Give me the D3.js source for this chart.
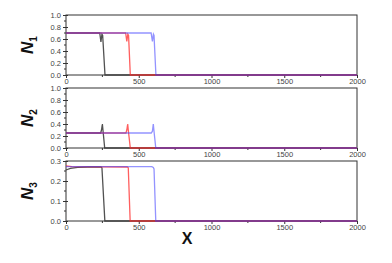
<!DOCTYPE html>
<html>
<head>
<meta charset="utf-8">
<script src="https://cdn.jsdelivr.net/npm/d3@7"></script>
<style>
  body { margin: 0; background: #fff; }
  svg { display: block; }
</style>
</head>
<body>
<div id="chart"></div>
<script>
// x domain + ticks
const xTicks = [0, 500, 1000, 1500, 2000];
const xMinor = [250, 750, 1250, 1750];

// N1 profiles (x, value)
const n1Black = [[0, 0.7], [232, 0.7], [240, 0.55], [247, 0.68], [252, 0.66], [268, 0], [2000, 0]];
const n1Red = [[0, 0.7], [410, 0.7], [418, 0.56], [425, 0.68], [430, 0.66], [442, 0], [2000, 0]];
const n1Blue = [[0, 0.7], [585, 0.7], [594, 0.56], [601, 0.68], [605, 0.66], [618, 0], [2000, 0]];

// N2 profiles
const n2Black = [[0, 0.25], [238, 0.25], [244, 0.3], [250, 0.4], [254, 0.3], [266, 0], [2000, 0]];
const n2Red = [[0, 0.25], [412, 0.25], [418, 0.3], [424, 0.4], [428, 0.3], [442, 0], [2000, 0]];
const n2Blue = [[0, 0.25], [586, 0.25], [594, 0.28], [600, 0.4], [604, 0.3], [617, 0], [2000, 0]];

// N3 profiles
const n3Black = [[0, 0.255], [30, 0.263], [80, 0.268], [150, 0.27], [240, 0.27], [247, 0.266], [267, 0], [2000, 0]];
const n3Red = [[0, 0.276], [40, 0.272], [420, 0.27], [428, 0.266], [441, 0], [2000, 0]];
const n3Blue = [[0, 0.272], [590, 0.272], [600, 0.268], [605, 0.26], [617, 0], [2000, 0]];

const n1Ticks = [0, 0.2, 0.4, 0.6, 0.8, 1.0];
const n3Ticks = [0, 0.1, 0.2, 0.3];

const panels = [
  { label: '1', top: 15, max: 1.0, ticks: n1Ticks, minor: [0.1, 0.3, 0.5, 0.7, 0.9], series: [n1Black, n1Red, n1Blue] },
  { label: '2', top: 88, max: 1.0, ticks: n1Ticks, minor: [0.1, 0.3, 0.5, 0.7, 0.9], series: [n2Black, n2Red, n2Blue] },
  { label: '3', top: 161, max: 0.3, ticks: n3Ticks, minor: [0.05, 0.15, 0.25], series: [n3Black, n3Red, n3Blue] },
];

const colors = ['#333', '#ff2a2a', '#3a3aff'];
const opac = [0.85, 0.75, 0.55];

function drawChart() {
  const w = 392;
  const h = 263;
  const left = 66;
  const right = 357;
  const ph = 60;

  const svg = d3.select('#chart').append('svg').attr('width', w).attr('height', h)
    .style('font-family', 'Liberation Sans, Arial, sans-serif');

  const x = d3.scaleLinear().domain([0, 2000]).range([left, right]);

  panels.forEach((p) => {
    const y = d3.scaleLinear().domain([0, p.max]).range([p.top + ph, p.top]);
    const g = svg.append('g');

    // frame
    g.append('rect').attr('x', left).attr('y', p.top).attr('width', right - left).attr('height', ph)
      .attr('fill', 'none').attr('stroke', '#333').attr('stroke-width', 1);

    // x axis
    const xa = g.append('g').attr('transform', `translate(0,${p.top + ph})`)
      .call(d3.axisBottom(x).tickValues(xTicks).tickSize(3).tickPadding(1).tickFormat(d3.format('d')));
    xa.select('.domain').remove();
    xa.selectAll('line').attr('stroke', '#333');
    xa.selectAll('text').attr('font-size', 7.5).attr('fill', '#444');
    xMinor.forEach((v) => {
      g.append('line').attr('x1', x(v)).attr('x2', x(v)).attr('y1', p.top + ph).attr('y2', p.top + ph + 2)
        .attr('stroke', '#333');
    });

    // y axis
    const ya = g.append('g').attr('transform', `translate(${left},0)`)
      .call(d3.axisLeft(y).tickValues(p.ticks).tickSize(3).tickPadding(2).tickFormat(d3.format('.1f')));
    ya.select('.domain').remove();
    ya.selectAll('line').attr('stroke', '#333').attr('x2', 2).attr('x1', -3);
    ya.selectAll('text').attr('font-size', 7.5).attr('fill', '#444');
    p.minor.forEach((v) => {
      g.append('line').attr('x1', left - 2).attr('x2', left).attr('y1', y(v)).attr('y2', y(v))
        .attr('stroke', '#333');
    });

    // data lines, on top of the frame
    const line = d3.line().x((d) => x(d[0])).y((d) => y(d[1]));
    p.series.forEach((s, i) => {
      g.append('path').attr('d', line(s)).attr('fill', 'none')
        .attr('stroke', colors[i]).attr('stroke-width', 1.3).attr('stroke-opacity', opac[i]);
    });

    // y label N_i
    const t = svg.append('text')
      .attr('transform', `translate(33,${p.top + ph / 2}) rotate(-90)`)
      .attr('text-anchor', 'middle')
      .attr('font-size', 17).attr('font-weight', 'bold').attr('fill', '#111');
    t.append('tspan').attr('font-style', 'italic').text('N');
    t.append('tspan').attr('font-size', 10).attr('dy', 4).text(p.label);
  });

  svg.append('text').attr('x', 187).attr('y', 244).attr('text-anchor', 'middle')
    .attr('font-size', 16).attr('font-weight', 'bold').attr('fill', '#111').text('X');
}

window.onload = function () {
  drawChart();
};
</script>
</body>
</html>
